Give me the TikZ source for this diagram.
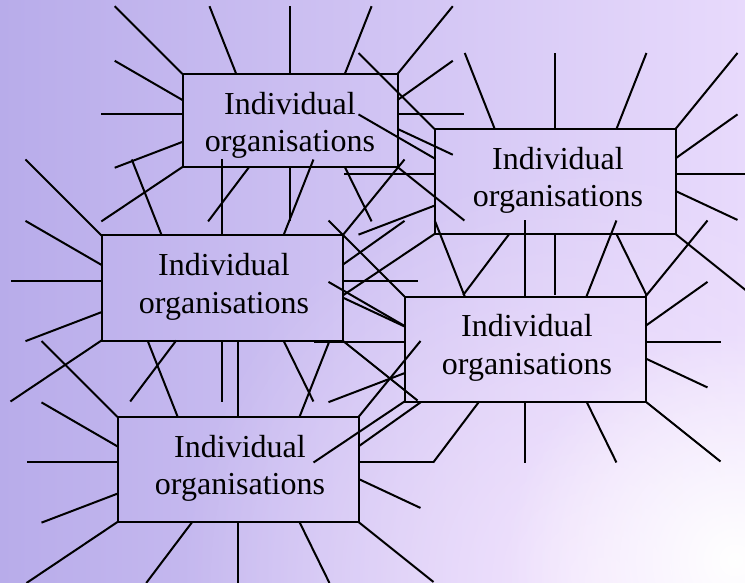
\documentclass[tikz,border=0pt]{standalone}
\usepackage{fontspec}
\setmainfont{Liberation Serif}
\usetikzlibrary{calc,fadings}
\definecolor{bgL}{RGB}{184,172,234}
\definecolor{bgR}{RGB}{232,218,252}
\definecolor{glow}{RGB}{248,234,255}
\tikzfading[name=spotfade, inner color=transparent!0, outer color=transparent!100]
\newcommand\sunrays[2]{%
 \draw[ray] (#1.north west) -- ++(-76*#2,-76*#2);
 \draw[ray] ($(#1.north west)!0.25!(#1.north east)$) -- ++(-30*#2,-76*#2);
 \draw[ray] (#1.north) -- ++(0,-76*#2);
 \draw[ray] ($(#1.north west)!0.755!(#1.north east)$) -- ++(30*#2,-76*#2);
 \draw[ray] (#1.north east) -- ++(62*#2,-76*#2);
 \draw[ray] ($(#1.north east)!0.28!(#1.south east)$) -- ++(62*#2,-44*#2);
 \draw[ray] ($(#1.north east)!0.43!(#1.south east)$) -- ++(75*#2,0);
 \draw[ray] ($(#1.north east)!0.59!(#1.south east)$) -- ++(62*#2,29*#2);
 \draw[ray] (#1.south east) -- ++(75*#2,60*#2);
 \draw[ray] ($(#1.north west)!0.28!(#1.south west)$) -- ++(-76*#2,-44*#2);
 \draw[ray] ($(#1.north west)!0.43!(#1.south west)$) -- ++(-91*#2,0);
 \draw[ray] ($(#1.north west)!0.73!(#1.south west)$) -- ++(-76*#2,29*#2);
 \draw[ray] (#1.south west) -- ++(-91*#2,61*#2);
 \draw[ray] ($(#1.south west)!0.31!(#1.south east)$) -- ++(-46*#2,61*#2);
 \draw[ray] (#1.south) -- ++(0,61*#2);
 \draw[ray] ($(#1.south west)!0.755!(#1.south east)$) -- ++(30*#2,61*#2);
}
\begin{document}
\begin{tikzpicture}[x=1pt,y=-1pt,
  ray/.style={line width=2pt, black},
  box/.style={draw=black, line width=2pt, inner sep=0pt, outer sep=0pt,
              minimum width=241pt, minimum height=105pt},
  lbl/.style={align=center, inner sep=0pt, font=\fontsize{32}{37.5}\selectfont}]
\useasboundingbox (0,0) rectangle (745,583);
\begin{scope}
\clip (0,0) rectangle (745,583);
\shade[left color=bgL, right color=bgR] (0,0) rectangle (745,583);
\fill[glow, opacity=0.8, path fading=spotfade] (600,580) circle (420);
\fill[white, path fading=spotfade] (735,560) circle (230);
% boxes
\node[box, minimum width=215pt, minimum height=93pt] (b1) at (290,120.5) {};
\node[box] (b2) at (555,181.5) {};
\node[box] (b3) at (222,288) {};
\node[box] (b4) at (525,349) {};
\node[box] (b5) at (238,469.5) {};
% rays
\sunrays{b1}{0.892}
\sunrays{b2}{1}
\sunrays{b3}{1}
\sunrays{b4}{1}
\sunrays{b5}{1}
% labels
\node[lbl] (t1) at ($(b1.center)+(0,5)$) {Individual\\organisations};
\node[lbl] (t2) at ($(b2.center)+(3,-1)$) {Individual\\organisations};
\node[lbl] (t3) at ($(b3.center)+(2,-1)$) {Individual\\organisations};
\node[lbl] (t4) at ($(b4.center)+(2,-1)$) {Individual\\organisations};
\node[lbl] (t5) at ($(b5.center)+(2,-1)$) {Individual\\organisations};
\end{scope}
\end{tikzpicture}
\end{document}
